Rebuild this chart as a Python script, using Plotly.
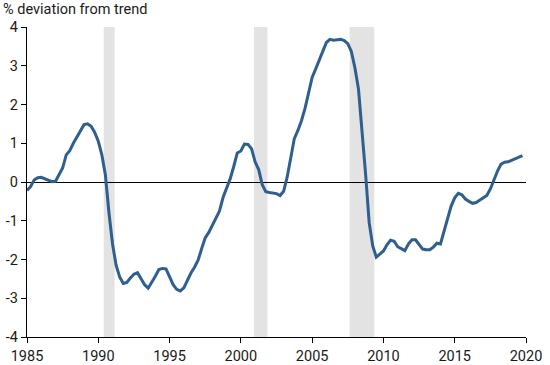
import plotly.graph_objects as go

start_year = 1985.0
values = [
    -0.22, -0.12, 0.05, 0.11,   # 1985
    0.12, 0.08, 0.05, 0.01,     # 1986
    0.02, 0.18, 0.36, 0.70,     # 1987
    0.81, 1.00, 1.15, 1.32,     # 1988
    1.48, 1.50, 1.44, 1.28,     # 1989
    1.05, 0.70, 0.18, -0.80,    # 1990
    -1.60, -2.15, -2.45, -2.62, # 1991
    -2.59, -2.48, -2.38, -2.34, # 1992
    -2.50, -2.65, -2.74, -2.60, # 1993
    -2.43, -2.26, -2.23, -2.24, # 1994
    -2.45, -2.65, -2.77, -2.81, # 1995
    -2.73, -2.52, -2.35, -2.20, # 1996
    -2.02, -1.72, -1.44, -1.30, # 1997
    -1.12, -0.97, -0.75, -0.40, # 1998
    -0.15, 0.08, 0.40, 0.75,    # 1999
    0.80, 0.98, 0.97, 0.86,     # 2000
    0.52, 0.32, -0.07, -0.25,   # 2001
    -0.27, -0.28, -0.30, -0.35, # 2002
    -0.24, 0.13, 0.65, 1.12,    # 2003
    1.33, 1.58, 1.90, 2.30,     # 2004
    2.70, 2.92, 3.15, 3.36,     # 2005
    3.60, 3.68, 3.66, 3.67,     # 2006
    3.68, 3.65, 3.57, 3.37,     # 2007
    2.95, 2.40, 1.40, 0.20,     # 2008
    -1.05, -1.65, -1.94, -1.86, # 2009
    -1.78, -1.62, -1.50, -1.53, # 2010
    -1.67, -1.72, -1.77, -1.60, # 2011
    -1.49, -1.49, -1.61, -1.73, # 2012
    -1.75, -1.75, -1.68, -1.58, # 2013
    -1.60, -1.27, -0.90, -0.62, # 2014
    -0.41, -0.29, -0.33, -0.44, # 2015
    -0.50, -0.55, -0.53, -0.47, # 2016
    -0.42, -0.35, -0.18, 0.06,  # 2017
    0.28, 0.46, 0.51, 0.52,     # 2018
    0.56, 0.59, 0.62, 0.68,     # 2019
]
years = [start_year + 0.25 * i for i in range(len(values))]

recession_starts = [1990.38, 2000.92, 2007.63]
recession_ends = [1991.15, 2001.86, 2009.36]

y_ticks = [-4, -3, -2, -1, 0, 1, 2, 3, 4]
y_tick_labels = ["-4", "-3", "-2", "-1", "0", "1", "2", "3", "4"]
x_ticks = [1985, 1990, 1995, 2000, 2005, 2010, 2015, 2020]
x_tick_labels = ["1985", "1990", "1995", "2000", "2005", "2010", "2015", "2020"]
title_text = "% deviation from trend"

fig = go.Figure()

shapes = []
for s, e in zip(recession_starts, recession_ends):
    shapes.append(dict(type="rect", xref="x", yref="y", x0=s, x1=e, y0=-4, y1=4,
                       fillcolor="#e3e3e3", line=dict(width=0), layer="below"))

fig.add_trace(go.Scatter(x=years, y=values, mode="lines",
                         line=dict(color="#2f5f8e", width=3), hoverinfo="skip",
                         showlegend=False))

font = dict(family="Roboto, sans-serif", size=14.5, color="#1a1a1a")

fig.update_layout(
    width=550, height=365,
    margin=dict(l=27, r=24, t=27, b=28, pad=0),
    paper_bgcolor="white", plot_bgcolor="white",
    shapes=shapes,
    font=font,
    showlegend=False,
    hovermode=False,
    xaxis=dict(range=[1985, 2020], tickvals=x_ticks, ticktext=x_tick_labels,
               showgrid=False, zeroline=False, showline=True, linecolor="black",
               linewidth=1.2, ticks="outside", ticklen=5, tickwidth=1, tickcolor="black",
               tickfont=font, automargin=False),
    yaxis=dict(range=[-4, 4], tickvals=y_ticks, ticktext=y_tick_labels,
               showgrid=False, zeroline=True, zerolinecolor="black", zerolinewidth=1,
               showline=True, linecolor="black",
               linewidth=1.2, ticks="outside", ticklen=5, tickwidth=1, tickcolor="black",
               tickfont=font, automargin=False),
    annotations=[dict(text=title_text, xref="paper", yref="paper",
                      x=-26 / 499, y=1 + 17 / 310, xanchor="left", yanchor="middle",
                      showarrow=False, font=font)],
)

fig.write_html("out.html", config={"displayModeBar": False, "staticPlot": True},
               post_script="document.body.style.margin='0';document.body.style.padding='0';")
